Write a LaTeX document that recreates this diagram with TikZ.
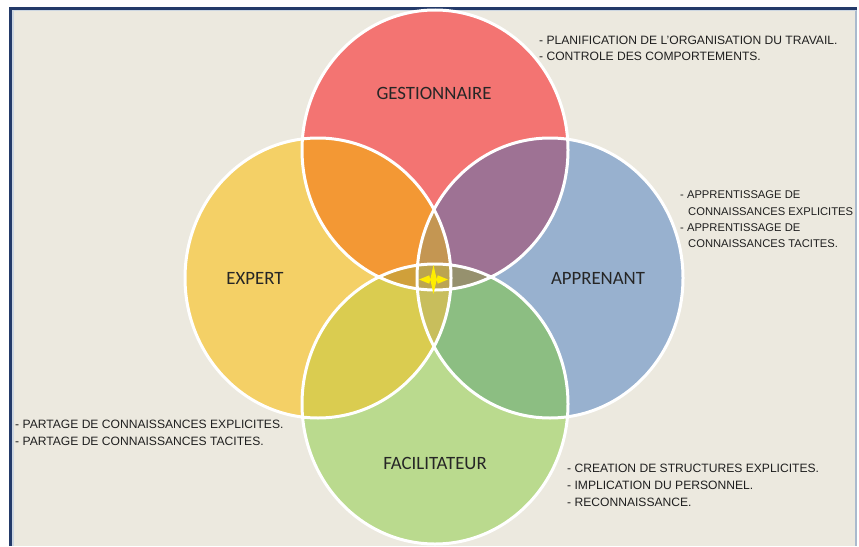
\documentclass[tikz,border=0pt]{standalone}
\usepackage{fontspec}
\setmainfont{Liberation Sans}
\newfontfamily\carlito{Carlito}
\begin{document}
\begin{tikzpicture}[x=1pt,y=-1pt,
  bullet/.style={anchor=base west,inner sep=0pt,text=black!88,font=\fontsize{12.1}{13}\selectfont},
  rbullet/.style={bullet,font=\fontsize{11.2}{13}\selectfont},
  circlabel/.style={inner sep=0pt,text=black!85,font=\carlito\fontsize{18.8}{20}\selectfont},
  ring/.style={draw=white,line width=3pt}]
\definecolor{bg}{RGB}{236,233,223}
\definecolor{navy}{RGB}{35,58,105}
\definecolor{edgeblue}{RGB}{170,186,205}
\definecolor{cred}{RGB}{243,116,114}
\definecolor{cyel}{RGB}{244,208,102}
\definecolor{cblu}{RGB}{152,177,207}
\definecolor{cgre}{RGB}{186,218,142}
\definecolor{cRY}{RGB}{243,152,52}
\definecolor{cRB}{RGB}{158,114,148}
\definecolor{cYG}{RGB}{218,204,80}
\definecolor{cBG}{RGB}{140,190,130}
\definecolor{cRYB}{RGB}{196,150,82}
\definecolor{cRYG}{RGB}{208,160,58}
\definecolor{cRBG}{RGB}{150,145,110}
\definecolor{cYBG}{RGB}{200,190,92}
\definecolor{cALL}{RGB}{188,165,80}
\useasboundingbox (0,0) rectangle (859,546);
\fill[white] (0,0) rectangle (859,546);
\fill[bg] (9,7) rectangle (857,546);
\draw[edgeblue,line width=1.5pt] (856,8) -- (856,546);
\draw[edgeblue!60,line width=1.5pt] (13,546) -- (13,10) -- (856,10);
\draw[navy,line width=3pt] (10.5,546) -- (10.5,8.5) -- (857,8.5);
% circle shapes
\def\R{(435,150) ellipse [x radius=133,y radius=140]}
\def\Y{(318,278) ellipse [x radius=133,y radius=140]}
\def\B{(550,278) ellipse [x radius=133,y radius=140]}
\def\G{(435,404) ellipse [x radius=133,y radius=140]}
\fill[cyel] \Y;
\fill[cblu] \B;
\fill[cred] \R;
\fill[cgre] \G;
\begin{scope}\clip \R; \fill[cRY] \Y; \end{scope}
\begin{scope}\clip \R; \fill[cRB] \B; \end{scope}
\begin{scope}\clip \G; \fill[cYG] \Y; \end{scope}
\begin{scope}\clip \G; \fill[cBG] \B; \end{scope}
\begin{scope}\clip \R; \clip \Y; \fill[cRYB] \B; \end{scope}
\begin{scope}\clip \R; \clip \Y; \fill[cRYG] \G; \end{scope}
\begin{scope}\clip \R; \clip \B; \fill[cRBG] \G; \end{scope}
\begin{scope}\clip \Y; \clip \B; \fill[cYBG] \G; \end{scope}
\begin{scope}\clip \R; \clip \Y; \clip \B; \fill[cALL] \G; \end{scope}
\draw[ring] \Y;
\draw[ring] \B;
\draw[ring] \R;
\draw[ring] \G;
% star
\coordinate (st) at (433.5,279.5);
\fill[yellow!95!orange] ([yshift=-14.5]st) -- ([shift={(4.2,-4.2)}]st) -- ([xshift=14.5]st) -- ([shift={(4.2,4.2)}]st) -- ([yshift=14.5]st) -- ([shift={(-4.2,4.2)}]st) -- ([xshift=-14.5]st) -- ([shift={(-4.2,-4.2)}]st) -- cycle;
% labels
\node[circlabel] (ges) at (434,93) {GESTIONNAIRE};
\node[circlabel] (exp) at (255,278) {EXPERT};
\node[circlabel] (app) at (598,278) {APPRENANT};
\node[circlabel] (fac) at (435,463) {FACILITATEUR};
% bullet texts
\node[bullet] (t1) at (539,44) {- PLANIFICATION DE L'ORGANISATION DU TRAVAIL.};
\node[bullet] (t2) at (539,60) {- CONTROLE DES COMPORTEMENTS.};
\node[rbullet] (r1) at (680,198) {- APPRENTISSAGE DE};
\node[rbullet] (r2) at (688,215) {CONNAISSANCES EXPLICITES};
\node[rbullet] (r3) at (680,231) {- APPRENTISSAGE DE};
\node[rbullet] (r4) at (688,247) {CONNAISSANCES TACITES.};
\node[bullet] (l1) at (15,428) {- PARTAGE DE CONNAISSANCES EXPLICITES.};
\node[bullet] (l2) at (15,445) {- PARTAGE DE CONNAISSANCES TACITES.};
\node[bullet] (b1) at (567,472) {- CREATION DE STRUCTURES EXPLICITES.};
\node[bullet] (b2) at (567,489) {- IMPLICATION DU PERSONNEL.};
\node[bullet] (b3) at (567,506) {- RECONNAISSANCE.};
\end{tikzpicture}
\end{document}
